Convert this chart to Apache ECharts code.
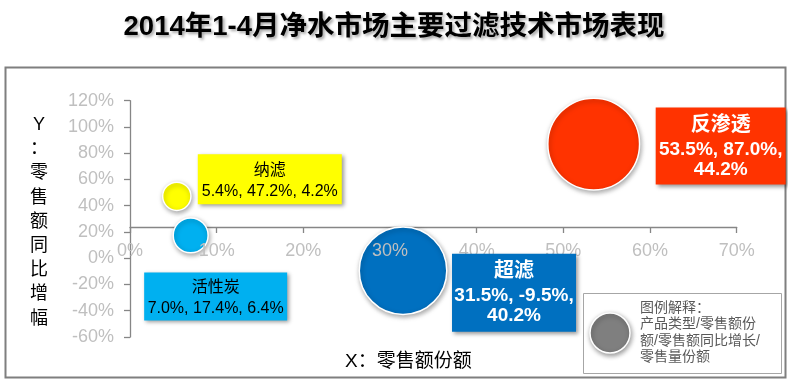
<!DOCTYPE html>
<html><head><meta charset="utf-8">
<script src="https://cdn.jsdelivr.net/npm/echarts@6/dist/echarts.min.js"></script>
<style>html,body{margin:0;padding:0;background:#fff}#c{width:788px;height:381px}</style>
</head><body><div id="c"></div>
<script>
// ---- data ----
const categories = ['纳滤', '活性炭', '超滤', '反渗透'];
const salesShare = [5.4, 7.0, 31.5, 53.5];      // X: 零售额份额 (%)
const salesGrowth = [47.2, 17.4, -9.5, 87.0];   // Y: 零售额同比增幅 (%)
const volumeShare = [4.2, 6.4, 40.2, 44.2];     // bubble: 零售量份额 (%)
const xTicks = [0, 10, 20, 30, 40, 50, 60, 70];
const yTicks = [-60, -40, -20, 0, 20, 40, 60, 80, 100, 120];
const legendLines = ['图例解释：', '产品类型/零售额份', '额/零售额同比增长/', '零售量份额'];
const titleText = '2014年1-4月净水市场主要过滤技术市场表现';
const xTitle = 'X：零售额份额';
const yTitle = 'Y：零售额同比增幅';

// ---- styles ----
const FONT = '"Liberation Sans", Arial, "Noto Sans CJK SC", sans-serif';
const colors = ['#ffff00', '#00b0f0', '#0070c0', '#ff3300'];
const labelStyles = [
  { offset: [93, -17], w: 144, pad: [6, 0, 2, 0], color: '#000', big: false, split: false },
  { offset: [25, 61], w: 143, pad: [5, 0, 1, 0], color: '#000', big: false, split: false },
  { offset: [111, 22], w: 124, pad: [4, 0, 6, 0], color: '#fff', big: true, split: true },
  { offset: [127, 2], w: 130, pad: [4, 0, 5, 0], color: '#fff', big: true, split: true }
];
const xStep = xTicks[1] - xTicks[0];
const yStep = yTicks[1] - yTicks[0];
const pct = v => v.toFixed(1) + '%';

const points = categories.map((n, i) => [salesShare[i], salesGrowth[i], volumeShare[i], n]);

const chart = echarts.init(document.getElementById('c'), null, { renderer: 'canvas' });
const axisColor = '#868686';
const tickLabelColor = '#bfbfbf';

chart.setOption({
  animation: false,
  textStyle: { fontFamily: FONT },
  title: {
    text: titleText, left: 'center', top: 14, padding: 0,
    textStyle: {
      fontFamily: FONT, fontSize: 27.5, fontWeight: 'bold', color: '#000',
      textShadowColor: 'rgba(0,0,0,0.35)', textShadowBlur: 3, textShadowOffsetX: 2, textShadowOffsetY: 2
    }
  },
  grid: { left: 130, right: 51.3, top: 100.7, bottom: 44, outerBoundsMode: 'none', containLabel: false },
  xAxis: [
    {
      type: 'value', min: xTicks[0], max: xTicks[xTicks.length - 1], interval: xStep,
      position: 'bottom', offset: -110, z: 0,
      axisLine: { show: true, onZero: false, lineStyle: { color: axisColor, width: 1.3 } },
      axisTick: { show: true, length: 6, lineStyle: { color: axisColor, width: 1.3 } },
      axisLabel: { show: false },
      splitLine: { show: false }
    },
    {
      type: 'value', min: xTicks[0], max: xTicks[xTicks.length - 1], interval: xStep,
      position: 'bottom', offset: -110, z: 3,
      axisLine: { show: false, onZero: false },
      axisTick: { show: false },
      axisLabel: { show: true, formatter: '{value}%', color: tickLabelColor, fontSize: 18, margin: 15, fontFamily: FONT },
      splitLine: { show: false }
    }
  ],
  yAxis: {
    type: 'value', min: yTicks[0], max: yTicks[yTicks.length - 1], interval: yStep,
    axisLine: { show: true, lineStyle: { color: axisColor, width: 1.3 } },
    axisTick: { show: true, length: 6, lineStyle: { color: axisColor, width: 1.3 } },
    axisLabel: { formatter: '{value}%', color: tickLabelColor, fontSize: 18, margin: 16, fontFamily: FONT },
    splitLine: { show: false }
  },
  series: [
    {
      type: 'scatter', z: 2, silent: true,
      data: points.map((p, i) => ({
        value: p,
        itemStyle: {
          color: colors[i], opacity: 1, borderColor: '#fff', borderWidth: 1.5,
          shadowBlur: 5, shadowColor: 'rgba(0,0,0,0.35)', shadowOffsetX: 1, shadowOffsetY: 2
        }
      })),
      symbolSize: v => 13.8 * Math.sqrt(v[2])
    },
    {
      type: 'scatter', z: 4, silent: true,
      symbolSize: 1,
      itemStyle: { color: 'rgba(0,0,0,0)', opacity: 1 },
      data: points.map((p, i) => {
        const s = labelStyles[i];
        const vals = s.split
          ? pct(p[0]) + ', ' + pct(p[1]) + ',}\n{v|' + pct(p[2])
          : pct(p[0]) + ', ' + pct(p[1]) + ', ' + pct(p[2]);
        return {
          value: p,
          label: {
            show: true, position: 'inside', offset: s.offset,
            width: s.w, padding: s.pad, align: 'center', verticalAlign: 'middle',
            backgroundColor: colors[i], opacity: 1,
            shadowColor: 'rgba(0,0,0,0.4)', shadowBlur: 4, shadowOffsetX: 2, shadowOffsetY: 2,
            formatter: '{t|' + p[3] + '}\n{v|' + vals + '}',
            rich: s.big ? {
              t: { fontSize: 20, fontWeight: 'bold', lineHeight: 28, color: s.color, align: 'center', fontFamily: FONT },
              v: { fontSize: 19, fontWeight: 'bold', lineHeight: 20, color: s.color, align: 'center', fontFamily: FONT }
            } : {
              t: { fontSize: 16, lineHeight: 21, color: s.color, align: 'center', fontFamily: FONT },
              v: { fontSize: 16, lineHeight: 21, color: s.color, align: 'center', fontFamily: FONT }
            }
          }
        };
      })
    }
  ],
  graphic: [
    { type: 'rect', z: -1, shape: { x: 5.5, y: 67.5, width: 780, height: 310 },
      style: { fill: 'none', stroke: '#7f7f7f', lineWidth: 2 } },
    { type: 'text', z: 5, style: { x: 39, y: 113, text: yTitle.split('').join('\n'), textAlign: 'center',
      fontSize: 18, lineHeight: 24.2, fill: '#000', fontFamily: FONT } },
    { type: 'text', z: 5, style: { x: 345, y: 362, text: xTitle, textAlign: 'left', textVerticalAlign: 'middle',
      fontSize: 19, fill: '#000', fontFamily: FONT } },
    { type: 'rect', z: 5, shape: { x: 583.5, y: 293.5, width: 198, height: 80 },
      style: { fill: '#fff', stroke: '#a6a6a6', lineWidth: 1 } },
    { type: 'circle', z: 6, shape: { cx: 610, cy: 333, r: 20 },
      style: { fill: '#7f7f7f', stroke: '#fff', lineWidth: 1.5, shadowBlur: 5, shadowColor: 'rgba(0,0,0,0.4)', shadowOffsetX: 1, shadowOffsetY: 2 } },
    { type: 'text', z: 6, style: { x: 640, y: 300, text: legendLines.join('\n'), fontSize: 14, lineHeight: 16.3,
      fill: '#595959', fontFamily: FONT } }
  ]
});
</script>
</body></html>
